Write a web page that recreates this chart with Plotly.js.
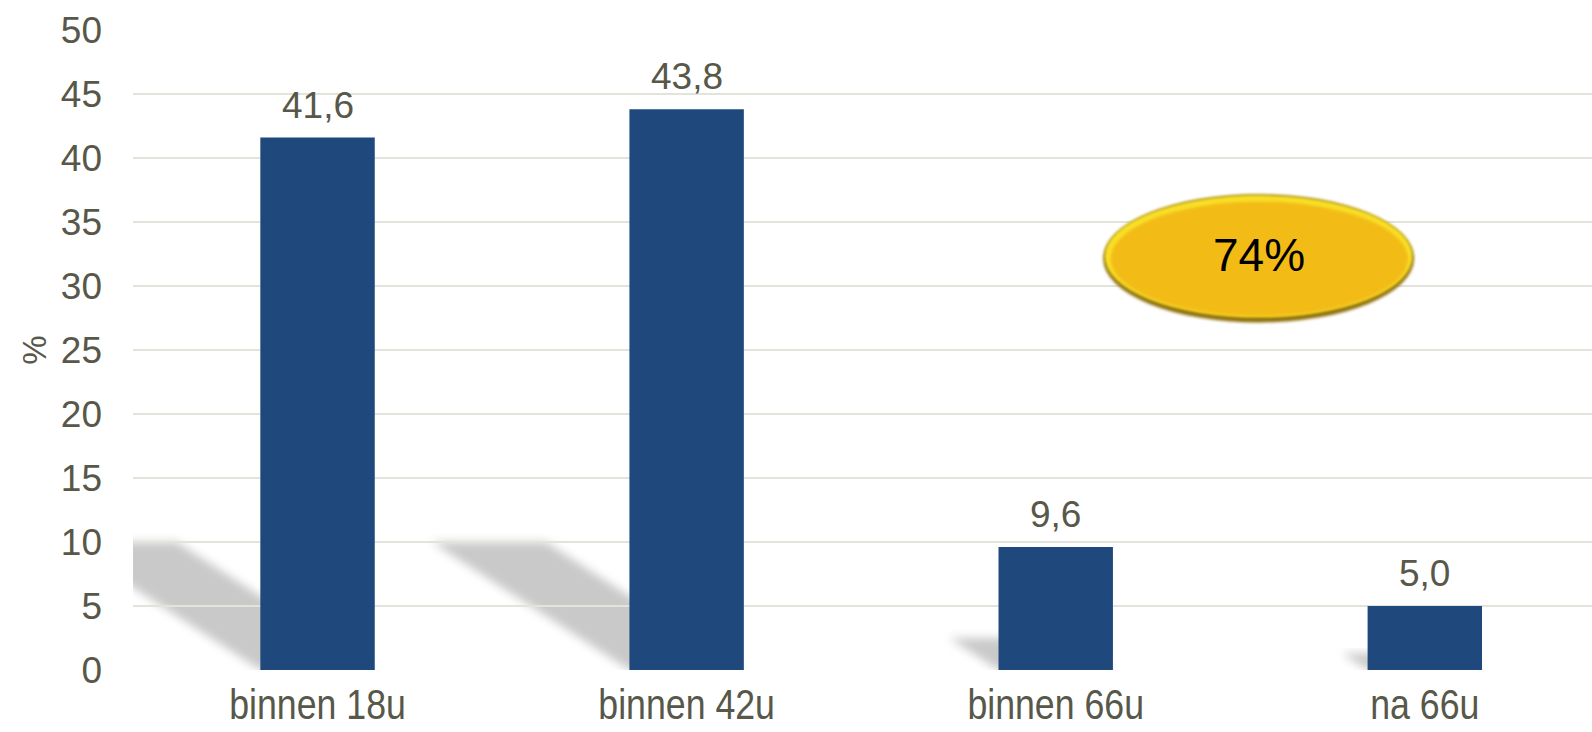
<!DOCTYPE html>
<html>
<head>
<meta charset="utf-8">
<script src="https://cdn.plot.ly/plotly-3.0.1.min.js"></script>
<style>
  html, body { margin: 0; padding: 0; background: #ffffff; }
  #chart { width: 1592px; height: 732px; }
</style>
</head>
<body>
<div id="chart"></div>
<script>
// ---- data ----
const categories = ["binnen 18u", "binnen 42u", "binnen 66u", "na 66u"];
const values = [41.6, 43.8, 9.6, 5.0];
const yTickValues = [0, 5, 10, 15, 20, 25, 30, 35, 40, 45, 50];
const shadowHeights = [10, 10, 2.5, 1.3];
const badgeText = "74%";
const yTitle = "%";

// ---- style ----
const textColor = "#57574a";
const barColor = "#1F497D";
const fontFamily = "'Liberation Sans', Arial, sans-serif";
const barWidth = 0.31;
const shadowSlope = 0.0536; // category units of lean per y unit

const shapes = [];
// bar shadows (drawn below bars, above gridlines, semi-transparent)
values.forEach((v, i) => {
  const s = shadowHeights[i];
  const k = shadowSlope * s;
  const l = i - barWidth / 2, r = i + barWidth / 2;
  shapes.push({
    type: "path", xref: "x", yref: "y", layer: "below",
    path: `M ${l} 0 L ${r} 0 L ${r - k} ${s} L ${l - k} ${s} Z`,
    fillcolor: "rgba(0,0,0,0.21)", line: { width: 0 }
  });
});
// badge ellipse (layered for a glossy look)
shapes.push({ type: "circle", xref: "paper", yref: "paper", x0: 0.665, x1: 0.878, y0: 0.543, y1: 0.743,
  fillcolor: "#8e6e0c", line: { width: 0 } });
shapes.push({ type: "circle", xref: "paper", yref: "paper", x0: 0.666, x1: 0.877, y0: 0.551, y1: 0.742,
  fillcolor: "#f8e028", line: { width: 0 } });
shapes.push({ type: "circle", xref: "paper", yref: "paper", x0: 0.670, x1: 0.874, y0: 0.553, y1: 0.732,
  fillcolor: "#f3bb17", line: { width: 0 } });

const annotations = values.map((v, i) => ({
  x: categories[i], y: v, xref: "x", yref: "y",
  text: v.toFixed(1).replace(".", ","),
  showarrow: false, xanchor: "center", yanchor: "bottom", yshift: 10,
  font: { family: fontFamily, size: 37, color: textColor }
}));
annotations.push({
  x: 0.7715, y: 0.648, xref: "paper", yref: "paper",
  xanchor: "center", yanchor: "middle",
  text: badgeText, showarrow: false,
  font: { family: fontFamily, size: 46, color: "#000000" }
});

const trace = {
  type: "bar",
  x: categories,
  y: values,
  width: barWidth,
  marker: { color: barColor, line: { width: 0 } },
  hoverinfo: "x+y"
};

const layout = {
  width: 1592, height: 732,
  margin: { l: 133, r: 0, t: 30, b: 62 },
  paper_bgcolor: "#ffffff", plot_bgcolor: "#ffffff",
  separators: ",.",
  showlegend: false,
  font: { family: fontFamily, color: textColor },
  xaxis: {
    type: "category",
    range: [-0.5, 3.453],
    showgrid: false, zeroline: false, showline: false,
    ticks: "", ticklabelstandoff: 6,
    tickfont: { family: fontFamily, size: 42, color: textColor }
  },
  yaxis: {
    range: [0, 50],
    tickvals: yTickValues,
    ticktext: yTickValues.map(String),
    showgrid: true, gridcolor: "#e3e3dc", gridwidth: 2,
    zeroline: false, showline: false,
    ticks: "", ticklabelstandoff: 30,
    tickfont: { family: fontFamily, size: 37, color: textColor },
    title: { text: yTitle, font: { family: fontFamily, size: 33, color: textColor }, standoff: 4 }
  },
  shapes: shapes,
  annotations: annotations
};

function addFilter(defs, id, sd) {
  const ns = "http://www.w3.org/2000/svg";
  const f = document.createElementNS(ns, "filter");
  f.setAttribute("id", id);
  f.setAttribute("x", "-30%"); f.setAttribute("y", "-30%");
  f.setAttribute("width", "160%"); f.setAttribute("height", "160%");
  const b = document.createElementNS(ns, "feGaussianBlur");
  b.setAttribute("stdDeviation", String(sd));
  f.appendChild(b); defs.appendChild(f);
}

Plotly.newPlot("chart", [trace], layout, { displayModeBar: false, staticPlot: true }).then(gd => {
  const ns = "http://www.w3.org/2000/svg";
  const svg = gd.querySelector("svg.main-svg");
  let defs = svg.querySelector("defs");
  if (!defs) { defs = document.createElementNS(ns, "defs"); svg.insertBefore(defs, svg.firstChild); }
  addFilter(defs, "shadowBlur", 5);
  addFilter(defs, "edgeBlur", 1.5);
  gd.querySelectorAll(".shapelayer path").forEach(p => {
    const fill = (p.style.fill || p.getAttribute("fill") || "").replace(/\s/g, "");
    if (fill === "rgb(0,0,0)") p.setAttribute("filter", "url(#shadowBlur)");
    else p.setAttribute("filter", "url(#edgeBlur)");
  });
  // condensed category labels (reference uses a narrow face): horizontal scale about each label's centre
  gd.querySelectorAll(".xtick text").forEach(t => {
    const bb = t.getBBox();
    const cx = bb.x + bb.width / 2;
    const prev = t.getAttribute("transform") || "";
    t.setAttribute("transform", prev + ` translate(${cx},0) scale(0.85,1) translate(${-cx},0)`);
  });
});
</script>
</body>
</html>
